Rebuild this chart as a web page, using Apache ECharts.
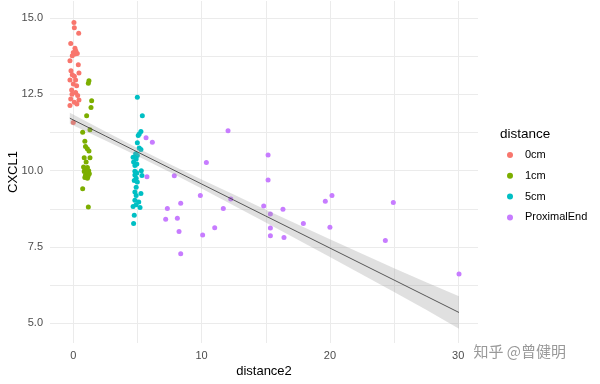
<!DOCTYPE html>
<html>
<head>
<meta charset="utf-8">
<script src="https://cdn.jsdelivr.net/npm/echarts@6/dist/echarts.min.js"></script>
<style>html,body{margin:0;padding:0;background:#fff}#c{width:600px;height:384px}</style>
</head>
<body>
<div id="c"></div>
<script>
const categories = ['0cm', '1cm', '5cm', 'ProximalEnd'];
const colors = ['#F8766D', '#7CAE00', '#00BFC4', '#C77CFF'];

const x0cm = [0.05,0.08,0.42,-0.2,0.13,0.0,0.13,0.31,-0.08,0.2,-0.26,0.39,-0.18,0.44,-0.08,0.08,-0.26,0.18,0.0,0.26,-0.13,0.18,0.34,0.44,-0.2,0.08,-0.26,0.28,-0.1,0.0];
const y0cm = [14.85,14.68,14.5,14.16,14.01,13.87,13.82,13.84,13.76,13.92,13.6,13.47,13.27,13.2,13.14,13.09,12.97,12.97,12.84,12.78,12.64,12.56,12.46,12.31,12.35,12.24,12.13,12.18,12.5,11.58];

const x1cm = [1.22,1.17,1.43,1.38,1.04,0.73,1.3,0.9,0.95,1.09,1.22,0.85,1.3,1.0,0.8,1.1,0.9,1.2,0.85,1.05,1.25,0.95,1.15,0.9,1.1,1.0,0.73,1.17];
const y1cm = [12.94,12.86,12.29,12.07,11.8,11.26,11.34,10.96,10.79,10.72,10.64,10.42,10.42,10.28,10.12,10.1,10.05,10.0,9.97,9.93,9.9,9.85,9.82,9.78,9.75,9.95,9.41,8.81];

const x5cm = [4.99,5.38,5.27,5.14,5.06,4.99,5.14,5.27,4.86,4.99,4.66,4.9,4.7,4.95,4.8,5.3,4.8,4.95,5.35,4.8,4.9,4.75,4.99,4.9,4.8,5.27,4.9,4.8,5.1,4.66,5.2,4.9,4.75,4.7];
const y5cm = [12.4,11.8,11.28,11.2,11.15,10.91,10.74,10.69,10.55,10.5,10.44,10.38,10.28,10.22,10.17,10.0,9.98,9.92,9.84,9.86,9.75,9.68,9.63,9.46,9.3,9.25,9.19,9.03,8.97,8.83,8.79,8.88,8.54,8.27];

const xProx = [5.67,6.16,5.74,7.87,12.06,10.37,15.18,15.18,8.37,7.33,7.2,8.11,8.24,8.37,9.9,11.69,11.02,10.08,12.27,14.84,15.36,15.36,15.36,16.34,16.42,17.93,19.64,20.16,20.0,24.94,24.32,30.06];
const yProx = [11.08,10.93,9.8,9.83,11.31,10.27,10.51,9.69,8.93,8.76,8.41,8.44,8.01,7.28,9.19,8.76,8.13,7.89,9.07,8.84,8.58,8.12,7.87,8.74,7.81,8.27,9.0,9.19,8.15,8.96,7.71,6.62];

// fitted line and confidence band half-width
const fitX = [-0.27,2.5,5,7.5,10,12.5,15,17.5,20,22.5,25,27.5,30.06];
const fitY = [11.717,11.136,10.612,10.087,9.563,9.039,8.514,7.99,7.466,6.942,6.418,5.893,5.356];
const fitHW = [0.18,0.15,0.13,0.13,0.15,0.18,0.21,0.25,0.29,0.34,0.39,0.45,0.53];

const xTicks = [0,10,20,30];
const xGrid = [0,5,10,15,20,25,30];
const yTicks = [5,7.5,10,12.5,15];
const yGrid = [5,6.25,7.5,8.75,10,11.25,12.5,13.75,15];

const groupsX = [x0cm, x1cm, x5cm, xProx];
const groupsY = [y0cm, y1cm, y5cm, yProx];

const font = 'Liberation Sans, Arial, sans-serif';
const series = categories.map((name, i) => ({
  name: name,
  type: 'scatter',
  symbolSize: 5,
  itemStyle: {color: colors[i], opacity: 1},
  data: groupsX[i].map((x, j) => [x, groupsY[i][j]]),
  z: 2
}));
series.push({
  name: 'band', type: 'custom', silent: true, z: 3,
  data: fitX.map((x, j) => [x, fitY[j] - fitHW[j], fitY[j] + fitHW[j]]),
  encode: {x: 0, y: [1, 2]},
  renderItem: function (params, api) {
    if (params.dataIndex !== 0) return null;
    const pts = [];
    for (let j = 0; j < fitX.length; j++) pts.push(api.coord([fitX[j], fitY[j] + fitHW[j]]));
    for (let j = fitX.length - 1; j >= 0; j--) pts.push(api.coord([fitX[j], fitY[j] - fitHW[j]]));
    return {type: 'polygon', shape: {points: pts, smooth: 0}, style: {fill: 'rgba(153,153,153,0.3)'}};
  }
});
series.push({
  name: 'fit', type: 'line', symbol: 'none', silent: true,
  lineStyle: {color: '#333', width: 0.8}, data: fitX.map((x, j) => [x, fitY[j]]), z: 4
});

const chart = echarts.init(document.getElementById('c'), null, {renderer: 'canvas'});
chart.setOption({
  animation: false,
  backgroundColor: '#fff',
  grid: {left: 50, right: 122, top: 1, bottom: 41, containLabel: false, outerBoundsMode: 'none'},
  xAxis: {
    type: 'value', min: -1.816, max: 31.54,
    name: 'distance2', nameLocation: 'middle', nameGap: 22, nameMoveOverlap: false,
    nameTextStyle: {color: '#000', fontSize: 13, fontFamily: font},
    axisLine: {show: false}, axisTick: {show: false, customValues: xGrid},
    axisLabel: {customValues: xTicks, color: '#4D4D4D', fontSize: 11, fontFamily: font, margin: 7},
    splitLine: {show: true, lineStyle: {color: '#EBEBEB', width: 1}}
  },
  yAxis: {
    type: 'value', min: 4.357, max: 15.555,
    name: 'CXCL1', nameLocation: 'middle', nameGap: 30, nameMoveOverlap: false,
    nameTextStyle: {color: '#000', fontSize: 13, fontFamily: font},
    axisLine: {show: false}, axisTick: {show: false, customValues: yGrid},
    axisLabel: {customValues: yTicks, color: '#4D4D4D', fontSize: 11, fontFamily: font, margin: 7,
      formatter: v => v.toFixed(1)},
    splitLine: {show: true, lineStyle: {color: '#EBEBEB', width: 1}}
  },
  legend: {
    data: categories.map((c, i) => ({name: c, icon: 'circle', itemStyle: {color: colors[i]}})),
    orient: 'vertical', left: 502, top: 144,
    itemWidth: 6, itemHeight: 6, itemGap: 8.8,
    textStyle: {color: '#000', fontSize: 11, fontFamily: font, lineHeight: 12, padding: [0,0,0,7]}
  },
  graphic: [
    {type: 'text', left: 500, top: 127, style: {text: 'distance', fill: '#000', font: '13.5px ' + font}},
    {type: 'text', left: 473, top: 343, style: {text: '知乎 @曾健明', fill: 'rgba(110,110,110,0.7)', font: '15px "Noto Sans CJK SC"', stroke: 'rgba(255,255,255,0.8)', lineWidth: 1}}
  ],
  series: series
});
</script>
</body>
</html>
